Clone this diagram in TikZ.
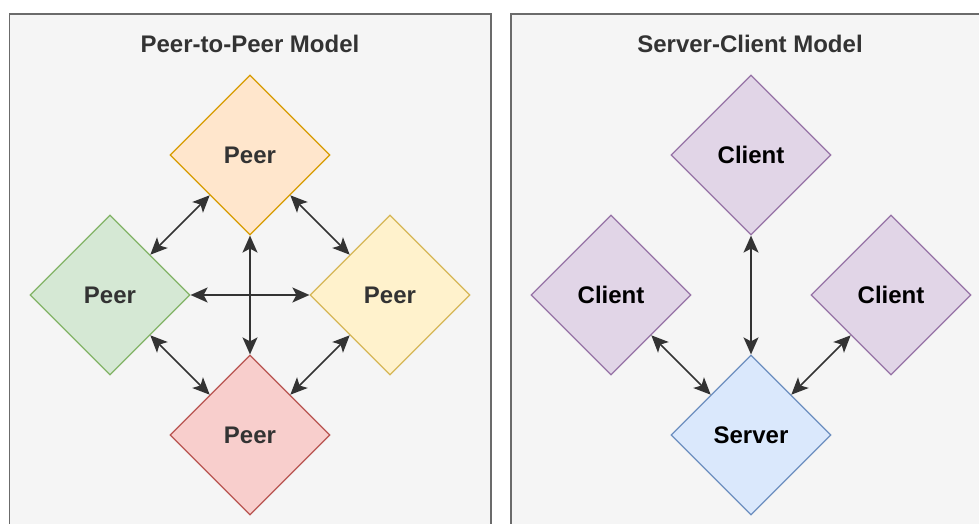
\documentclass[tikz,border=0pt]{standalone}
\usepackage{fontspec}
\setmainfont{Liberation Sans}
\usetikzlibrary{shapes.geometric,arrows.meta}
\definecolor{panelline}{HTML}{6B6B6B}
\definecolor{panelfill}{HTML}{F5F5F5}
\definecolor{txt}{HTML}{333333}
\definecolor{orangeF}{HTML}{FFE6CC}\definecolor{orangeD}{HTML}{D79B00}
\definecolor{greenF}{HTML}{D5E8D4}\definecolor{greenD}{HTML}{82B366}
\definecolor{yellowF}{HTML}{FFF2CC}\definecolor{yellowD}{HTML}{D6B656}
\definecolor{redF}{HTML}{F8CECC}\definecolor{redD}{HTML}{B85450}
\definecolor{purpleF}{HTML}{E1D5E7}\definecolor{purpleD}{HTML}{9673A6}
\definecolor{blueF}{HTML}{DAE8FC}\definecolor{blueD}{HTML}{6C8EBF}
\begin{document}
\begin{tikzpicture}[x=1pt,y=-1pt,
  panel/.style={draw=panelline, line width=1.6pt, fill=panelfill},
  title/.style={font=\bfseries\fontsize{24}{28}\selectfont, text=txt, inner sep=0pt},
  dia/.style={diamond, aspect=1, minimum width=160pt, minimum height=160pt, inner sep=0pt,
    line width=1.2pt, font=\bfseries\fontsize{24}{28}\selectfont},
  peer/.style={dia, text=txt},
  cli/.style={dia, text=black},
  link/.style={{Stealth[length=17pt,width=15pt,inset=4pt]}-{Stealth[length=17pt,width=15pt,inset=4pt]}, line width=1.6pt, draw=txt}]
\useasboundingbox (0,0) rectangle (979,524);
\clip (0,0) rectangle (979,524);
\fill[white] (0,0) rectangle (979,524);
% panels
\draw[panel] (9.5,14) rectangle (491,560);
\draw[panel] (511,14) rectangle (1000,560);
\node[title] (t1) at (250,44) {Peer-to-Peer Model};
\node[title] (t2) at (750,44) {Server-Client Model};
% left panel
\node[peer, fill=orangeF, draw=orangeD] (pt) at (250,155) {Peer};
\node[peer, fill=greenF, draw=greenD] (pl) at (110,295) {Peer};
\node[peer, fill=yellowF, draw=yellowD] (pr) at (390,295) {Peer};
\node[peer, fill=redF, draw=redD] (pb) at (250,435) {Peer};
\draw[link] (pt.south west) -- (pl.north east);
\draw[link] (pt.south east) -- (pr.north west);
\draw[link] (pl.south east) -- (pb.north west);
\draw[link] (pr.south west) -- (pb.north east);
\draw[link] (pl.east) -- (pr.west);
\draw[link] (pt.south) -- (pb.north);
% right panel
\node[cli, fill=purpleF, draw=purpleD] (ct) at (751,155) {Client};
\node[cli, fill=purpleF, draw=purpleD] (cl) at (611,295) {Client};
\node[cli, fill=purpleF, draw=purpleD] (cr) at (891,295) {Client};
\node[cli, fill=blueF, draw=blueD] (sv) at (751,435) {Server};
\draw[link] (ct.south) -- (sv.north);
\draw[link] (cl.south east) -- (sv.north west);
\draw[link] (cr.south west) -- (sv.north east);
\end{tikzpicture}
\end{document}
